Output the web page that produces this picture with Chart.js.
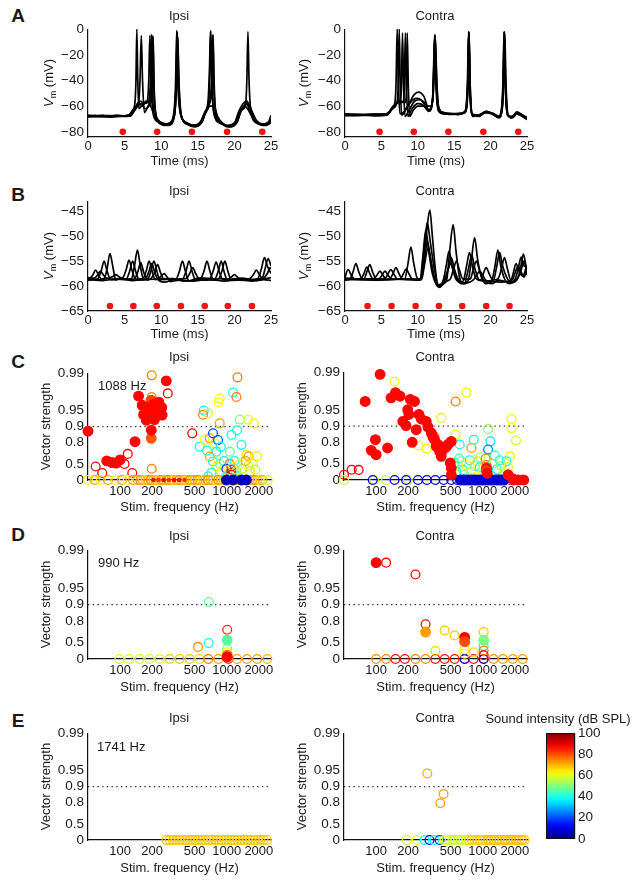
<!DOCTYPE html>
<html><head><meta charset="utf-8">
<script src="https://cdn.jsdelivr.net/npm/chart.js@4.4.1/dist/chart.umd.min.js"></script>
<style>
html,body{margin:0;padding:0;background:#fff;}
#fig{position:relative;width:638px;height:885px;overflow:hidden;background:#fff;font-family:"Liberation Sans",Arial,sans-serif;color:#1a1a1a;}
#fig canvas{position:absolute;}
.t{position:absolute;white-space:nowrap;font-size:13px;line-height:1;transform:translate(-50%,-50%);}
.l{position:absolute;white-space:nowrap;font-size:13px;line-height:1;transform:translate(0,-50%);}
.b{font-weight:bold;font-size:19px;}
.v{transform:translate(-50%,-50%) rotate(-90deg);}
.v sub{font-size:9px;}
</style></head><body><div id="fig"></div>
<script>
// ---------------- DATA ----------------
const timeTicks = [0, 5, 10, 15, 20, 25];
const aVmTicks = [-80, -60, -40, -20, 0];
const bVmTicks = [-65, -60, -55, -50, -45];
const freqTicks = [100, 200, 500, 1000, 2000];
const vsTicks = [0, 0.5, 0.8, 0.9, 0.95, 0.99];
const vsTickLabels = ['0', '0.5', '0.8', '0.9', '0.95', '0.99'];
const cbTicks = [0, 20, 40, 60, 80, 100];
const vsThreshold = 0.9;

// stimulus markers (ms)
const aStim = [4.75, 9.45, 14.2, 19.0, 23.8];
const aStimLevel = -80;
const bIpsiStim = [3.0, 6.2, 9.4, 12.7, 15.95, 19.1, 22.4];
const bContraStim = [3.1, 6.4, 9.7, 12.9, 16.1, 19.4, 22.6];
const bStimLevel = -64;

// membrane potential traces [ms, mV]
const aIpsiTraces = [
 [[0,-67.5],[1,-67.2],[2,-67.8],[3,-67.3],[4,-67.6],[5,-67.8],[5.6,-67],[6.1,-63],[6.4,-58],[6.55,-40],[6.67,0],[6.8,-40],[6.95,-62],[7.3,-60],[7.7,-58],[8.2,-57],[8.5,-45],[8.65,-4],[8.8,-45],[9.0,-65],[9.5,-71],[10.3,-74],[11.2,-73],[11.7,-66],[11.95,-45],[12.12,-1],[12.3,-45],[12.6,-65],[13.2,-72],[14.2,-75],[15.2,-74],[15.8,-67],[16.3,-62],[16.6,-45],[16.78,-1],[16.95,-45],[17.25,-66],[18,-72],[19,-76],[20,-74],[20.5,-68],[21,-63],[21.5,-60],[21.7,-40],[21.85,-2],[22.0,-40],[22.3,-66],[23,-73],[24,-75],[24.7,-73],[25,-70]],
 [[0,-68],[1,-67.8],[2,-67.4],[3,-68],[4,-67.8],[5,-67.5],[5.8,-66],[6.3,-62],[6.9,-58],[7.1,-40],[7.28,-5],[7.45,-40],[7.7,-65],[8.2,-60],[8.6,-50],[8.85,-5],[9.0,-45],[9.3,-67],[10,-73],[11,-74],[11.8,-66],[12.05,-40],[12.22,-4],[12.4,-40],[12.7,-66],[13.5,-74],[14.5,-76],[15.5,-73],[16,-65],[16.5,-60],[16.9,-40],[17.08,-4],[17.25,-45],[17.5,-66],[18.3,-73],[19.3,-76],[20.2,-73],[20.7,-66],[21.3,-60],[21.9,-58],[22.4,-64],[23,-71],[24,-74],[25,-72]],
 [[0,-67],[1,-67.6],[2,-67.2],[3,-67.5],[4,-67],[5,-67.6],[5.8,-67],[6.3,-63],[6.8,-58],[7.2,-56],[7.6,-58],[8.1,-56],[8.3,-40],[8.45,-5],[8.6,-40],[8.9,-66],[9.5,-72],[10.5,-75],[11.5,-71],[11.9,-62],[12.1,-30],[12.2,-3],[12.35,-40],[12.65,-66],[13.5,-73],[14.5,-75],[15.5,-71],[16,-64],[16.4,-56],[16.6,-30],[16.72,-2],[16.9,-40],[17.2,-66],[18,-73],[19,-75],[20,-73],[20.6,-64],[21.2,-58],[21.7,-56],[22.2,-62],[23,-72],[24,-74],[24.7,-72],[25,-67]],
 [[0,-68.3],[1.5,-68],[3,-68.5],[4.5,-68],[5.8,-67.5],[6.3,-64],[6.8,-60],[7.3,-58],[7.8,-62],[8.3,-60],[8.7,-48],[8.9,-6],[9.05,-48],[9.3,-68],[10,-74],[11,-75],[11.8,-68],[12.1,-40],[12.25,-6],[12.45,-45],[12.75,-67],[13.6,-74],[14.6,-76],[15.6,-72],[16.1,-64],[16.6,-58],[16.9,-45],[17.05,-5],[17.2,-45],[17.5,-68],[18.4,-74],[19.4,-76],[20.4,-72],[20.9,-64],[21.4,-60],[21.8,-62],[22.4,-68],[23.2,-73],[24.2,-75],[25,-73]],
 [[0,-67.8],[2,-68.2],[4,-67.8],[5.8,-67.6],[6.4,-62],[6.9,-57],[7.4,-60],[7.9,-56],[8.4,-58],[9,-66],[9.8,-72],[11,-74],[11.8,-67],[12.05,-45],[12.18,-2],[12.35,-45],[12.65,-66],[13.5,-73],[14.5,-75],[15.6,-72],[16.2,-63],[16.7,-60],[17.2,-60],[17.7,-68],[18.5,-74],[19.5,-76],[20.4,-72],[20.9,-63],[21.3,-61],[21.6,-57],[22,-62],[22.6,-70],[23.5,-74],[24.5,-74],[25,-71]]
];
const aContraTraces = [
 [[0,-66.5],[1,-66.8],[2,-66.3],[3,-66.7],[4,-66.4],[5,-66.6],[5.7,-66],[6.3,-63],[6.8,-59],[7.0,-45],[7.17,0],[7.35,-45],[7.55,-66],[8.0,-65],[8.8,-58],[9.5,-51],[10.1,-49],[10.8,-52],[11.4,-60],[11.9,-60],[12.15,-40],[12.35,-4],[12.6,-40],[12.9,-62],[13.5,-65],[14.5,-66],[15.5,-66.5],[16.4,-65],[16.8,-45],[16.98,-2],[17.15,-45],[17.5,-66],[18.3,-67],[19.3,-64.5],[20.3,-66],[21.1,-68.5],[21.5,-62],[21.7,-40],[21.85,-2],[22.0,-40],[22.3,-66],[22.8,-68.5],[23.6,-65],[24.4,-67],[25,-69.5]],
 [[0,-67],[1.5,-67.3],[3,-66.9],[4.5,-67.2],[5.8,-66.6],[6.5,-62],[7.1,-58],[7.3,-45],[7.45,0],[7.6,-45],[7.8,-67],[8.3,-63],[9,-57],[9.8,-54],[10.4,-55],[11.0,-59],[11.6,-63],[12.1,-50],[12.32,-5],[12.55,-45],[12.85,-63],[13.5,-65.5],[14.5,-66.5],[15.5,-66],[16.5,-64],[16.85,-45],[17.0,-3],[17.15,-45],[17.5,-67],[18.3,-67.5],[19.4,-65],[20.3,-66.5],[21.2,-69],[21.6,-60],[21.75,-40],[21.9,-3],[22.05,-40],[22.35,-66],[22.9,-69],[23.5,-66],[24.4,-68],[25,-70]],
 [[0,-66],[2,-66.5],[4,-66.2],[5.8,-66],[6.5,-61],[7.3,-57],[7.6,-55],[7.75,-45],[7.9,-3],[8.05,-45],[8.25,-68],[8.8,-63],[9.6,-56],[10.3,-55],[11,-58],[11.5,-64],[12.1,-52],[12.35,-6],[12.6,-48],[12.9,-63],[13.6,-66],[14.6,-65.5],[15.6,-66.5],[16.5,-64.5],[16.9,-45],[17.05,-3],[17.2,-45],[17.55,-67],[18.4,-68],[19.4,-64],[20.4,-66],[21.2,-68],[21.6,-62],[21.8,-40],[21.95,-3],[22.1,-40],[22.4,-67],[23,-69],[23.7,-65.5],[24.5,-67.5],[25,-69]],
 [[0,-67.4],[2,-67],[4,-67.5],[5.8,-66.8],[6.6,-61],[7.4,-57],[8.0,-57],[8.15,-45],[8.3,-3],[8.45,-45],[8.65,-68],[9.2,-62],[10,-58],[10.7,-59],[11.4,-63],[12.05,-55],[12.3,-5],[12.55,-50],[12.85,-64],[13.6,-66],[14.6,-66],[15.6,-65.5],[16.5,-65],[16.85,-45],[17.02,-2],[17.2,-45],[17.5,-68],[18.4,-67],[19.4,-65],[20.3,-65.5],[21.1,-68],[21.55,-61],[21.75,-40],[21.88,-2],[22.05,-40],[22.3,-67],[22.9,-68],[23.6,-65],[24.4,-68],[25,-70.5]],
 [[0,-66.2],[2,-66.8],[4,-66.4],[5.8,-66.2],[6.6,-60],[7.5,-56],[8.3,-57],[8.45,-45],[8.55,-3],[8.7,-45],[8.9,-68],[9.4,-63],[10,-60],[10.8,-60],[11.5,-64],[12.1,-52],[12.4,-5],[12.65,-50],[12.95,-62],[13.6,-65],[14.6,-66],[15.6,-66],[16.5,-64],[16.85,-45],[17.0,-2],[17.15,-45],[17.5,-66.5],[18.4,-67],[19.4,-64],[20.3,-66],[21.1,-69],[21.6,-61],[21.75,-40],[21.87,-2],[22.0,-40],[22.3,-66],[22.9,-69],[23.6,-64.5],[24.4,-67],[25,-69]]
];
const bIpsiTraces = [
 [[0,-58.6],[0.3,-58.4],[0.65,-57.8],[1.05,-56.8],[1.45,-57.9],[1.9,-58.6],[2.2,-58.5],[2.6,-56.6],[3.0,-53.5],[3.4,-56.2],[3.8,-58.8],[4.5,-58.5],[5.9,-58.6],[6.35,-56],[6.75,-52.8],[7.15,-56],[7.6,-58.7],[8.2,-58.5],[8.6,-57],[9.0,-55],[9.4,-57],[9.8,-58.8],[11,-58.5],[12.9,-58.6],[13.4,-57],[13.8,-55],[14.2,-57],[14.7,-58.8],[15.5,-58.4],[17.3,-58.6],[17.8,-57],[18.2,-55],[18.6,-57.2],[19.1,-58.9],[20,-58.5],[21.5,-58.8],[23.2,-58.5],[23.7,-56.5],[24.1,-54.3],[24.5,-56],[25,-57.5]],
 [[0,-58.3],[0.9,-58.4],[1.3,-57.8],[1.7,-57],[2.1,-57.8],[2.6,-58.5],[3.5,-58.7],[4.7,-58.4],[5.2,-56.8],[5.6,-54.8],[6.0,-56.8],[6.5,-58.6],[7.5,-58.5],[7.95,-57],[8.35,-55],[8.75,-57],[9.2,-58.7],[10,-58.5],[12.0,-58.6],[12.5,-57],[12.9,-55],[13.3,-57],[13.8,-59],[15,-58.4],[16.6,-58.5],[17.1,-57],[17.5,-55.2],[17.9,-57],[18.4,-58.7],[19.5,-58.8],[21,-58.4],[22.5,-58.7],[23.8,-58.4],[24.2,-56.5],[24.6,-54.5],[25,-56]],
 [[0,-58.8],[1.3,-58.6],[1.8,-57],[2.2,-55],[2.6,-57],[3.1,-58.7],[4,-58.5],[5.2,-58.6],[5.7,-57],[6.1,-55],[6.5,-57],[7.0,-58.8],[7.8,-58.6],[8.3,-57.2],[8.7,-55.5],[9.1,-57.2],[9.6,-58.8],[10.5,-59.2],[12,-58.6],[13.4,-58.5],[13.9,-57.5],[14.3,-56.3],[14.7,-57.5],[15.2,-58.6],[16,-58.8],[17.8,-58.6],[18.3,-57],[18.7,-55],[19.1,-57],[19.6,-58.8],[21,-58.6],[23,-58.9],[24.0,-58.5],[24.5,-57.5],[24.9,-56.3],[25,-56.6]],
 [[0,-58.4],[1.5,-58.7],[2.9,-58.4],[3.4,-58.1],[3.8,-57.7],[4.2,-58.1],[4.7,-58.5],[6.3,-58.6],[6.8,-57.2],[7.2,-55.3],[7.6,-57.2],[8.1,-58.8],[8.6,-58.5],[9.1,-57.3],[9.5,-55.7],[9.9,-57.3],[10.4,-58.7],[11.5,-58.5],[13,-59],[15.35,-58.6],[15.85,-57],[16.25,-55],[16.65,-57],[17.15,-58.8],[18,-58.5],[19.1,-58.6],[19.6,-58.2],[20,-57.7],[20.4,-58.2],[20.9,-58.7],[22.1,-58.5],[22.6,-57.7],[23,-56.8],[23.4,-57.7],[23.9,-58.6],[25,-58.3]],
 [[0,-58.7],[2,-58.9],[4,-58.6],[6,-58.9],[8,-58.7],[9.5,-58.6],[10.0,-58],[10.4,-57.5],[10.8,-58.2],[11.3,-59.1],[12.5,-58.8],[14.5,-59],[16.5,-58.7],[18.5,-59],[20.5,-58.8],[22.5,-59],[24,-58.7],[25,-58.9]]
];
const bContraTraces = [
 [[0,-58.6],[0.1,-57.8],[0.45,-56.7],[0.85,-57.8],[1.3,-58.6],[2.2,-58.5],[2.6,-57.5],[3.0,-56.2],[3.4,-57.5],[3.9,-58.7],[6.1,-58.6],[6.6,-57.5],[7.0,-56.3],[7.4,-57.5],[7.9,-58.6],[8.2,-58.6],[8.65,-55.5],[9.05,-52.2],[9.45,-55.5],[9.95,-58.5],[10.5,-58.7],[11.0,-53],[11.3,-48],[11.65,-44.8],[12.0,-50],[12.4,-56.5],[12.8,-60.2],[13.6,-59.5],[14.0,-58.5],[14.45,-52],[14.85,-47.7],[15.25,-53],[15.7,-58],[16.2,-59.5],[16.9,-59],[17.35,-55],[17.8,-50.3],[18.2,-54.5],[18.7,-58],[19.3,-59.5],[20.1,-59.2],[20.6,-56],[21.0,-52.8],[21.4,-56],[21.9,-58.5],[22.5,-59.5],[23.6,-58.8],[24.1,-56.5],[24.5,-53.6],[24.8,-55.5],[25,-57.5]],
 [[0,-58.8],[0.7,-58.6],[1.1,-57.2],[1.5,-55.5],[1.9,-57.2],[2.4,-58.6],[4.0,-58.5],[4.4,-57.8],[4.8,-57],[5.2,-57.8],[5.7,-58.7],[7.6,-58.6],[8.0,-57.6],[8.4,-56.6],[8.8,-57.6],[9.3,-58.7],[10.4,-58.6],[10.85,-53],[11.3,-47.3],[11.7,-51],[12.2,-56],[12.9,-60],[13.5,-58.8],[13.9,-56],[14.3,-53],[14.7,-56],[15.2,-58.5],[16.0,-59.3],[16.3,-58.8],[16.7,-56],[17.1,-53.3],[17.5,-56],[18.0,-58.5],[19,-59],[20.4,-58.8],[20.85,-56],[21.25,-53.3],[21.65,-56],[22.2,-58.2],[22.8,-59.2],[23.4,-58.5],[23.8,-56.5],[24.2,-54.2],[24.6,-56],[25,-56]],
 [[0,-58.5],[2.6,-58.6],[3.0,-57.2],[3.4,-55.7],[3.8,-57.2],[4.3,-58.6],[4.7,-58.5],[5.1,-57.8],[5.5,-57],[5.9,-57.8],[6.4,-58.6],[10.4,-58.6],[10.9,-55],[11.3,-51],[11.7,-54],[12.2,-58],[12.7,-59.8],[13.6,-59],[14.2,-56.5],[14.6,-54.3],[15.0,-56.5],[15.5,-58.5],[16.5,-59.5],[16.6,-58.8],[17.0,-56.3],[17.4,-53.8],[17.8,-56.3],[18.3,-58.5],[18.6,-58.8],[19.0,-57.5],[19.4,-56.3],[19.8,-57.5],[20.3,-58.8],[21.0,-58.6],[21.5,-56.5],[21.9,-54.3],[22.3,-56.5],[22.8,-58.8],[23.1,-57.5],[23.5,-55.5],[23.9,-57],[24.4,-58],[25,-55.8]],
 [[0,-58.4],[2,-58.6],[5.5,-58.5],[5.9,-57.6],[6.3,-56.7],[6.7,-57.6],[7.2,-58.6],[10.5,-58.7],[10.95,-55.5],[11.4,-52.3],[11.8,-55],[12.3,-58.5],[12.8,-60],[14.0,-59],[14.5,-58.5],[14.9,-56.7],[15.3,-55],[15.7,-56.7],[16.2,-58.6],[17.2,-58.6],[17.6,-56.8],[18.05,-55],[18.45,-56.8],[18.9,-58.6],[20.3,-59.5],[21,-58.8],[22.6,-59.2],[23.7,-58.5],[24.2,-56.8],[24.6,-55],[25,-57.8]],
 [[0,-58.7],[4,-58.8],[8,-58.6],[10.3,-58.8],[10.7,-54],[11.1,-48.8],[11.5,-53],[12.0,-57.5],[13,-60.3],[13.7,-58.8],[14.1,-57],[14.5,-55.5],[14.9,-57],[15.4,-58.7],[16.0,-59.5],[17.6,-58.8],[18.1,-57.8],[18.5,-57],[18.9,-57.8],[19.4,-58.9],[21.5,-59.2],[23.0,-58.7],[23.4,-57.2],[23.8,-56],[24.2,-57.2],[24.6,-58.2],[25,-56.5]]
];

// vector strength points [stim. frequency Hz, vector strength, sound intensity dB SPL]
const cIpsiFilled = [[196,0.956,80],[196,0.968,81],[196,0.834,79],[50,0.878,87],[75,0.562,87],[84,0.529,87],[92,0.516,87],[100,0.58,87],[138,0.808,87],[149,0.973,87],[161,0.96,87],[176,0.956,87],[185,0.947,87],[166,0.94,87],[196,0.943,87],[218,0.95,87],[231,0.965,87],[248,0.939,87],[210,0.926,87],[176,0.924,87],[271,0.986,87],[196,0.883,87],[246,0.956,87],[207,0.962,87],[993,0,6],[1144,0,6],[1374,0,6],[1527,0,6]];
const cIpsiOpen = [[59,0.44,87],[68,0.26,87],[110,0.50,87],[118,0.675,87],[130,0.26,87],[198,0.989,75],[198,0.972,75],[198,0.383,75],[280,0.976,87],[475,0.866,87],[608,0.95,38],[599,0.94,75],[667,0.943,65],[557,0.762,40],[621,0.821,62],[653,0.718,40],[692,0.834,72],[743,0.866,20],[771,0.794,60],[828,0.821,22],[859,0.97,62],[859,0.913,72],[840,0.965,62],[801,0.705,40],[880,0.76,38],[1146,0.977,42],[1260,0.988,75],[1232,0.972,75],[1325,0.926,50],[1585,0.926,62],[1795,0.913,62],[1106,0.856,40],[1250,0.883,40],[1374,0.78,40],[1070,0.705,48],[1527,0.66,65],[1600,0.64,72],[692,0.636,72],[743,0.55,40],[801,0.44,62],[859,0.50,52],[880,0.31,62],[940,0.56,38],[993,0.38,18],[1020,0.2,48],[1070,0.5,75],[1106,0.36,87],[1106,0.27,87],[1146,0.44,62],[1180,0.56,40],[1230,0.31,50],[1270,0.15,40],[1325,0.5,62],[1400,0.38,50],[1500,0.56,72],[1585,0.46,62],[1650,0.31,65],[1760,0.5,62],[1860,0.36,55],[1920,0.64,65],[720,0.27,40],[670,0.15,42],[1106,0.2,87],[960,0.1,45],[1200,0.08,55],[1400,0.12,60]];
const cIpsiSmall = [[205,0,87],[229,0,82],[256,0,87],[287,0,82],[321,0,87],[359,0,87],[402,0,82]];
const cIpsiZero = [[50,60],[58,72],[66,62],[77,72],[90,64],[104,72],[118,62],[132,72],[146,70],[155,74],[164,70],[173,66],[183,70],[194,74],[205,70],[217,70],[229,66],[242,74],[256,70],[271,70],[287,74],[303,70],[321,66],[339,70],[359,74],[380,70],[402,70],[425,66],[449,74],[475,70],[503,70],[532,74],[562,70],[595,66],[629,70],[665,74],[704,70],[744,70],[787,66],[833,74],[881,70],[932,70],[985,74],[1042,70],[1102,66],[1166,70],[1233,74],[1304,70],[1379,70],[1459,66],[1543,74],[1632,70],[1726,70],[1826,74],[1931,70],[2042,66],[2160,70],[2430,58]];

const cContraFilled = [[109,0.989,87],[79,0.965,87],[98.5,0.821,87],[90,0.718,87],[100,0.66,87],[128,0.745,87],[138,0.97,87],[152,0.976,87],[168,0.972,87],[209,0.968,87],[229,0.965,87],[198,0.95,87],[203,0.939,87],[178,0.918,87],[191,0.902,87],[238,0.883,87],[218,0.80,87],[252,0.939,87],[265,0.926,87],[295,0.918,87],[306,0.896,87],[329,0.866,87],[353,0.821,87],[366,0.762,87],[394,0.705,87],[408,0.636,87],[438,0.745,87],[471,0.78,87],[507,0.808,87],[496,0.517,87],[507,0.40,87],[507,0.20,87],[341,0.84,87],[380,0.78,87],[420,0.72,87],[455,0.76,87],[1730,0.20,87],[1930,0.04,87],[1084,0.40,86],[1084,0.33,82],[1100,0.25,87]];
const cContraOpen = [[50,0.20,87],[59,0.356,87],[68.6,0.35,87],[149,0.985,62],[408,0.929,62],[557,0.965,75],[703,0.976,62],[353,0.845,75],[250,0.77,62],[299,0.738,62],[454,0.745,72],[557,0.856,62],[608,0.78,40],[783,0.745,72],[823,0.821,40],[1122,0.887,52],[1180,0.808,35],[1122,0.727,25],[1862,0.926,62],[1862,0.891,62],[2050,0.816,58],[1803,0.635,62],[544,0.517,40],[586,0.45,62],[631,0.55,50],[653,0.35,42],[703,0.47,62],[755,0.57,40],[783,0.30,60],[843,0.45,48],[887,0.55,65],[938,0.42,38],[1000,0.25,62],[1064,0.60,75],[1084,0.47,75],[1100,0.37,86],[1207,0.15,40],[1250,0.50,50],[1350,0.36,40],[1445,0.57,42],[1500,0.45,52],[1612,0.30,62],[1670,0.55,40],[1730,0.42,60],[1500,0.15,50],[887,0.15,62],[673,0.20,50],[565,0.30,40],[600,0.60,45],[950,0.62,55],[1300,0.65,45],[1150,0.1,55],[800,0.08,58],[1400,0.05,48]];
const cContraZeroOpen = [[50,57],[96,57],[124,57],[198,57],[93,12],[149,12],[191,12],[247,12],[299,12],[359,12],[430,12],[507,12],[575,12],[650,12],[730,12],[810,12],[1800,87],[2000,87],[2200,87],[2450,87],[1650,62],[1200,58],[1400,55],[1000,50],[1100,45]];
const cContraZeroFilled = [[620,8],[660,8],[700,8],[745,8],[790,8],[840,8],[890,8],[945,8],[1000,8],[1060,8],[1125,8],[1190,8],[1260,8],[1340,8],[1420,8],[1500,8],[1590,8],[1950,87],[2150,87],[2400,87]];

const dIpsiFilled = [[1010,0.55,46],[1010,0.15,76],[1010,0.08,87]];
const dIpsiOpen = [[680,0.91,48],[677,0.49,40],[538,0.40,74],[1010,0.71,83],[1010,0.35,50],[1010,0.25,62]];
const dIpsiZero = [[98.5,58],[122,58],[152,58],[189,58],[234,58],[291,68],[361,68],[449,68],[557,66],[671,76],[834,72],[1035,82],[1250,72],[1550,72],[1930,72],[2400,70]];

const dContraFilled = [[100,0.983,87],[291,0.68,72],[677,0.60,87],[677,0.52,80],[1020,0.55,50]];
const dContraOpen = [[124,0.983,87],[234,0.972,86],[291,0.77,86],[439,0.70,68],[545,0.63,68],[359,0.29,66],[677,0.33,64],[677,0.20,62],[821,0.25,66],[1020,0.68,68],[1020,0.42,40],[1020,0.30,75],[1020,0.15,86]];
const dContraZero = [[100,74],[124,74],[152,86],[186,86],[234,74],[291,74],[359,86],[439,86],[545,86],[677,86],[677,12],[821,86],[1020,86],[1020,12],[1262,74],[1540,72],[1910,72],[2370,72]];

const eIpsiZero = [[272,68],[292,68],[313,68],[335,68],[360,68],[386,68],[414,68],[444,68],[476,68],[510,68],[547,68],[587,68],[629,68],[675,68],[724,68],[776,68],[832,68],[893,68],[957,68],[1027,68],[1101,68],[1181,68],[1266,68],[1358,68],[1456,68],[1562,68],[1675,68],[1796,68],[1926,68],[2066,68],[2215,68],[2376,68]];
const eContraOpen = [[302,0.943,70],[429,0.862,72],[400,0.795,72]];
const eContraZero = [[194,58],[241,62],[285,38],[317,15],[353,40],[394,18],[438,60],[460,57],[490,58],[520,57],[550,58],[585,57],[620,58],[660,57],[700,58],[745,66],[790,68],[840,66],[890,68],[945,68],[1000,66],[1065,68],[1130,70],[1200,68],[1275,70],[1350,68],[1435,70],[1525,68],[1620,70],[1720,68],[1830,70],[1940,68],[2060,70],[2190,68],[2330,70],[2470,68]];

// ---------------- RENDER ----------------
const FREQ_MIN = 50, FREQ_MAX = 2600;
const TXT = '#1a1a1a';
Chart.defaults.font.family = '"Liberation Sans", Arial, Helvetica, sans-serif';
Chart.defaults.color = TXT;
const fig = document.getElementById('fig');

function jet(v) {
  const c = x => Math.round(255 * Math.max(0, Math.min(1, x)));
  return 'rgb(' + c(Math.min(4*v-1.5, -4*v+4.5)) + ',' + c(Math.min(4*v-0.5, -4*v+3.5)) + ',' + c(Math.min(4*v+0.5, -4*v+2.5)) + ')';
}
const dbColor = db => jet(db / 100);
const vsY = v => -Math.log(1 - v);
const neg = v => (v < 0 ? '\u2212' + Math.abs(v) : String(v));

function text(html, x, y, cls) {
  const d = document.createElement('div');
  d.className = cls; d.innerHTML = html;
  d.style.left = x + 'px'; d.style.top = y + 'px';
  fig.appendChild(d);
}

function mk(box, L, T, R, B, cfg, pad) {
  const c = document.createElement('canvas');
  const W = box.w + L + R, H = box.h + T + B;
  c.width = W; c.height = H;
  c.style.left = (box.l - L) + 'px'; c.style.top = (box.t - T) + 'px';
  c.style.width = W + 'px'; c.style.height = H + 'px';
  fig.appendChild(c);
  cfg.options = Object.assign({
    responsive: false, maintainAspectRatio: false, animation: false, events: [],
    layout: {padding: pad || {left: 0, top: T, right: R, bottom: 0}},
    plugins: {legend: {display: false}, tooltip: {enabled: false}, title: {display: false}}
  }, cfg.options);
  return new Chart(c, cfg);
}

const noGrid = {display: false, drawTicks: false};
const axBorder = {display: true, color: '#111', width: 1.2};

function traceSets(traces, stim, level) {
  const ds = [{
    data: stim.map(t => ({x: t, y: level})), showLine: false, pointRadius: 3.3,
    pointBackgroundColor: '#ef1515', pointBorderColor: '#ef1515', pointBorderWidth: 0, clip: false
  }];
  traces.forEach(tr => ds.push({
    data: tr.map(p => ({x: p[0], y: p[1]})), showLine: true, pointRadius: 0,
    borderColor: '#000', borderWidth: 1.7, tension: 0.3, cubicInterpolationMode: 'monotone'
  }));
  return ds;
}

function vmPanel(box, datasets, ymin, ymax, yt, B) {
  return mk(box, 60, 12, 30, B, {
    type: 'scatter', data: {datasets},
    options: {scales: {
      x: {type: 'linear', min: 0, max: 25, grid: noGrid, border: axBorder,
        afterBuildTicks: s => { s.ticks = timeTicks.map(v => ({value: v})); },
        afterFit: s => { s.height = B; },
        ticks: {padding: 2, font: {size: 13}, maxRotation: 0, autoSkip: false, callback: v => String(v)},
        title: {display: true, text: 'Time (ms)', font: {size: 13}, padding: {top: 0, bottom: 0}}},
      y: {type: 'linear', min: ymin, max: ymax, grid: noGrid, border: axBorder,
        afterBuildTicks: s => { s.ticks = yt.map(v => ({value: v})); },
        afterFit: s => { s.width = 60; },
        ticks: {padding: 4, font: {size: 13.5}, autoSkip: false, callback: v => neg(v)}}
    }}
  });
}

function pts(list, filled, r) {
  return {
    data: list.map(p => ({x: p[0], y: vsY(p[1])})), showLine: false,
    pointRadius: r || (filled ? 4.8 : 4.4), pointBorderWidth: 1.3,
    pointBorderColor: list.map(p => dbColor(p[2])),
    pointBackgroundColor: list.map(p => filled ? dbColor(p[2]) : 'rgba(0,0,0,0)'),
    clip: false
  };
}
const zeroPts = (list, filled, r) => pts(list.map(p => [p[0], 0, p[1]]), filled, r);
function threshold() {
  return {data: [{x: FREQ_MIN, y: vsY(vsThreshold)}, {x: FREQ_MAX, y: vsY(vsThreshold)}],
    showLine: true, pointRadius: 0, borderColor: '#333', borderWidth: 1.3, borderDash: [1.4, 3.3], clip: false};
}

function vsPanel(box, datasets, B) {
  datasets.push(threshold());
  return mk(box, 60, 12, 30, B, {
    type: 'scatter', data: {datasets},
    options: {scales: {
      x: {type: 'logarithmic', min: FREQ_MIN, max: FREQ_MAX, grid: noGrid, border: axBorder,
        afterBuildTicks: s => { s.ticks = freqTicks.map(v => ({value: v})); },
        afterFit: s => { s.height = B; },
        ticks: {padding: 4, font: {size: 13}, maxRotation: 0, autoSkip: false, callback: v => String(v)},
        title: {display: true, text: 'Stim. frequency (Hz)', font: {size: 13}, padding: {top: 0, bottom: 0}}},
      y: {type: 'linear', min: 0, max: vsY(0.99), grid: noGrid, border: axBorder,
        afterBuildTicks: s => { s.ticks = vsTicks.map(v => ({value: vsY(v)})); },
        afterFit: s => { s.width = 60; },
        ticks: {padding: 4, font: {size: 13.5}, autoSkip: false, callback: (v, i) => vsTickLabels[i]},
        title: {display: true, text: 'Vector strength', font: {size: 13}, padding: {top: 11, bottom: 0}}}
    }}
  });
}

// Row A
vmPanel({l: 88, t: 29, w: 183, h: 108}, traceSets(aIpsiTraces, aStim, aStimLevel), -84, 0, aVmTicks, 32);
vmPanel({l: 345, t: 29, w: 182, h: 108}, traceSets(aContraTraces, aStim, aStimLevel), -84, 0, aVmTicks, 32);
// Row B
vmPanel({l: 88, t: 201, w: 183, h: 110}, traceSets(bIpsiTraces, bIpsiStim, bStimLevel), -65, -43, bVmTicks, 31);
vmPanel({l: 345, t: 201, w: 182, h: 110}, traceSets(bContraTraces, bContraStim, bStimLevel), -65, -43, bVmTicks, 31);
// Row C
vsPanel({l: 88, t: 373, w: 183, h: 107}, [pts(cIpsiFilled, true), pts(cIpsiSmall, true, 1.6), zeroPts(cIpsiZero, false), pts(cIpsiOpen, false)], 35);
vsPanel({l: 344, t: 372, w: 183, h: 108}, [pts(cContraFilled, true), zeroPts(cContraZeroFilled, true), zeroPts(cContraZeroOpen, false), pts(cContraOpen, false)], 35);
// Row D
vsPanel({l: 88, t: 550, w: 183, h: 109}, [pts(dIpsiFilled, true), pts(dIpsiOpen, false), zeroPts(dIpsiZero, false)], 36);
vsPanel({l: 344, t: 550, w: 183, h: 109}, [pts(dContraFilled, true), pts(dContraOpen, false), zeroPts(dContraZero, false)], 36);
// Row E
vsPanel({l: 88, t: 733, w: 183, h: 107}, [zeroPts(eIpsiZero, false)], 36);
vsPanel({l: 344, t: 733, w: 183, h: 107}, [pts(eContraOpen, false), zeroPts(eContraZero, false)], 36);

// Colorbar
mk({l: 546, t: 732, w: 29, h: 108}, 0, 10, 40, 10, {
  type: 'scatter', data: {datasets: []},
  options: {scales: {
    x: {display: false, min: 0, max: 1},
    y: {position: 'right', type: 'linear', min: 0, max: 100, grid: noGrid, border: axBorder,
      afterBuildTicks: s => { s.ticks = cbTicks.map(v => ({value: v})); },
      afterFit: s => { s.width = 40; },
      ticks: {padding: 3, font: {size: 13.5}, autoSkip: false, callback: v => String(v)}}
  }},
  plugins: [{id: 'jetbar', beforeDraw(chart) {
    const {ctx, chartArea: a} = chart;
    const g = ctx.createLinearGradient(0, a.bottom, 0, a.top);
    for (let i = 0; i <= 20; i++) g.addColorStop(i / 20, jet(i / 20));
    ctx.save(); ctx.fillStyle = g; ctx.fillRect(a.left, a.top, a.right - a.left, a.bottom - a.top);
    ctx.strokeStyle = '#111'; ctx.lineWidth = 1; ctx.strokeRect(a.left + 0.5, a.top + 0.5, a.right - a.left - 1, a.bottom - a.top - 1);
    ctx.restore();
  }}]
}, {left: 0, top: 10, right: 0, bottom: 10});

// Texts
const vm = '<i>V</i><sub>m</sub> (mV)';
[['A', 15], ['B', 194], ['C', 361], ['D', 534], ['E', 720]].forEach(p => text(p[0], 18, p[1], 't b'));
[15, 190, 356, 535, 717].forEach(y => { text('Ipsi', 179, y, 't'); text('Contra', 435, y, 't'); });
text(vm, 50, 83, 't v'); text(vm, 305, 83, 't v');
text(vm, 50, 256, 't v'); text(vm, 305, 256, 't v');
text('1088 Hz', 98, 385, 'l');
text('990 Hz', 98, 562, 'l');
text('1741 Hz', 97, 746, 'l');
text('Sound intensity (dB SPL)', 558, 718, 't');
</script></body></html>
